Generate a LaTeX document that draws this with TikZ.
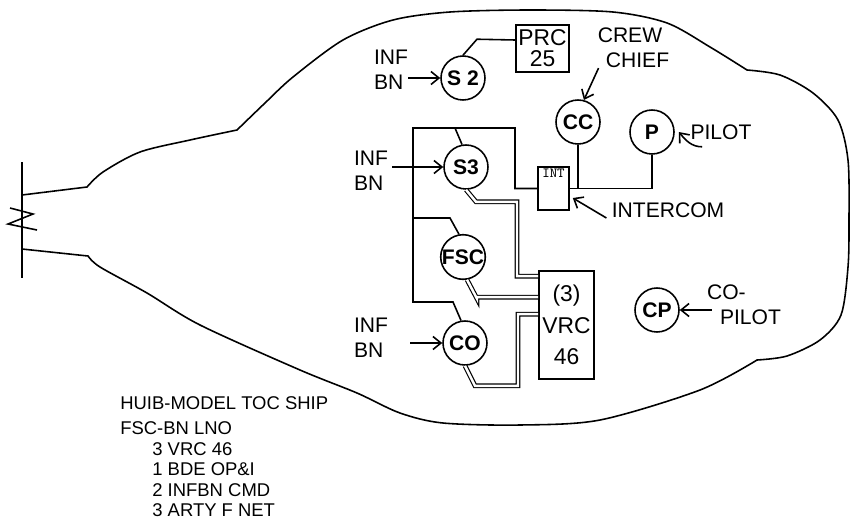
\documentclass[tikz,border=0pt]{standalone}
\usepackage{fontspec}
\setmainfont{Liberation Sans}
\usetikzlibrary{arrows.meta}

\tikzset{
  stn/.style={circle, draw, line width=0.9pt, minimum size=0.88cm, inner sep=0pt, font=\bfseries\fontsize{12}{12}\selectfont},
  lbl/.style={align=left, inner sep=0pt, font=\fontsize{12}{14}\selectfont},
  box/.style={draw, line width=0.9pt, inner sep=0pt, align=center},
  wire/.style={line width=0.9pt},
  coax/.style={double, double distance=1.4pt, line width=0.65pt},
  feed/.style={->, line width=0.9pt},
  >={Straight Barb[length=1.6mm,width=2.6mm]}
}

\begin{document}
\begin{tikzpicture}[x=0.02cm, y=-0.02cm]
            \useasboundingbox (0,0) rectangle (851,521);

            % hull
            \draw[wire] (22,195) -- (87,187)
                -- plot[smooth] coordinates {(87,187) (103,172) (140,152) (190,140) (237,130)}
                -- plot[smooth] coordinates {(237,130) (265,103) (293,77) (343,40) (393,20) (450,12) (530,10) (613,12) (667,23) (710,47) (747,70)}
                -- plot[smooth] coordinates {(747,70) (780,75) (813,93) (838,120) (848,160) (849,220) (848,267) (841,315) (820,340) (787,356) (757,360)}
                -- plot[smooth] coordinates {(757,360) (700,390) (600,420) (520,425) (443,423) (400,413) (357,393) (300,370) (200,325) (147,293) (100,267) (88,256)}
                -- (22,249);

            % tail
            \draw[wire] (22,162) -- (22,278);
            \draw[wire] (10,208) -- (33,214) -- (8,224) -- (37,230);

            % stations
            \node[stn] (s2) at (463,78) {S 2};
            \node[stn] (s3) at (466,167) {S3};
            \node[stn] (fsc) at (463,257) {FSC};
            \node[stn] (co) at (465,343) {CO};
            \node[stn] (cc) at (578,122) {CC};
            \node[stn] (p) at (652,132) {P};
            \node[stn] (cp) at (657,310) {CP};

            % sets
            \node[box, minimum width=1.06cm, minimum height=0.94cm, font=\fontsize{13}{12}\selectfont] (prc) at (542.5,48.5) {PRC\\25};
            \node[box, minimum width=0.62cm, minimum height=0.86cm,
                  label={[anchor=north, inner sep=1.5pt, font=\ttfamily\fontsize{8}{8}\selectfont]north:INT}] (int) at (553.5,188.5) {};
            \node[box, minimum width=1.1cm, minimum height=2.16cm, font=\fontsize{13}{18}\selectfont] (vrc) at (566.5,325) {(3)\\VRC\\46};

            % labels
            \node[lbl] (infa) at (391,70) {INF\\BN};
            \node[lbl] (infb) at (371,171) {INF\\BN};
            \node[lbl] (infc) at (371,338) {INF\\BN};
            \node[lbl, align=center] (crew) at (630,48) {CREW\\\hspace*{0.3cm}CHIEF};
            \node[lbl] (pilot) at (721,132) {PILOT};
            \node[lbl] (intercom) at (668,210) {INTERCOM};
            \node[lbl] (copilot) at (744,305) {CO-\\\hspace*{0.26cm}PILOT};

            % intercom lines
            \coordinate (tl) at (413,128);
            \coordinate (tr) at (515,128);
            \coordinate (bl) at (413,302);
            \draw[wire] (int.west) -| (tr) -- (tl) -- (bl) -- ++(40,0) -- (co.100);
            \draw[wire] (tl) ++(42,0) -- (s3.100);
            \draw[wire] (tl) ++(0,90) -- ++(37,0) -- (fsc.100);
            \draw[wire] (int.east) -| (p.south);
            \draw[wire] (cc.south) -- (cc.south |- int.east);
            \draw[wire] (s2.north) -- ++(14,-16) -- ([yshift=0.17cm]prc.west);

            % radio lines
            \draw[coax] (s3.south) -- ++(10,12) -- ++(41,0) |- ([yshift=-0.12cm]vrc.north west);
            \draw[coax] (fsc.-80) -- ++(10,19) |- ([yshift=-0.54cm]vrc.north west);
            \draw[coax] (co.-90) -- ++(10,20) -- ++(43,0) |- ([yshift=-0.88cm]vrc.north west);

            % arrows
            \draw[feed] (infa.east |- s2.west) -- (s2.west);
            \draw[feed] ([xshift=0.08cm]infb.east |- s3.west) -- (s3.west);
            \draw[feed] ([xshift=0.44cm]infc.east |- co.west) -- (co.west);
            \draw[feed] ([xshift=0.16cm]crew.south west) -- (cc.75);
            \draw[feed] ([shift={(0.24cm,-0.14cm)}]pilot.south west) to[out=180, in=-50] ([xshift=0.08cm]p.east);
            \draw[feed] ([shift={(-0.1cm,-0.16cm)}]intercom.west) -- ([shift={(0.06cm,-0.19cm)}]int.east);
            \draw[feed] ([xshift=0.1cm]copilot.west |- cp.east) -- (cp.east);

            % legend
            \node[anchor=north west, inner sep=0pt, align=left, font=\fontsize{10.5}{11.6}\selectfont] (legend) at (120,396)
                {HUIB-MODEL TOC SHIP\\[3pt]
                 FSC-BN LNO\\
                 \hspace*{0.64cm}3 VRC 46\\
                 \hspace*{0.64cm}1 BDE OP\&I\\
                 \hspace*{0.64cm}2 INFBN CMD\\
                 \hspace*{0.64cm}3 ARTY F NET};
\end{tikzpicture}
\end{document}
